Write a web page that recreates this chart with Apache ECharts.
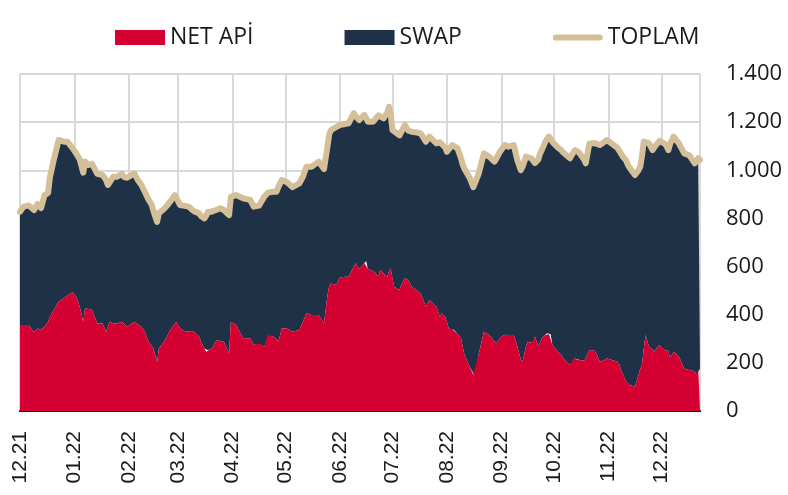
<!DOCTYPE html>
<html><head><meta charset="utf-8">
<script src="https://cdn.jsdelivr.net/npm/echarts@6/dist/echarts.min.js"></script>
<style>html,body{margin:0;padding:0;background:#fff}#c{width:788px;height:495px}</style>
</head><body><div id="c"></div>
<script>
const dates = [
 '2021-12-01','2021-12-03','2021-12-06','2021-12-09','2021-12-11','2021-12-13','2021-12-15','2021-12-17','2021-12-18','2021-12-20','2021-12-23','2021-12-26','2021-12-28','2021-12-31',
 '2022-01-02','2022-01-04','2022-01-06','2022-01-07','2022-01-09','2022-01-11','2022-01-14','2022-01-17','2022-01-19','2022-01-20','2022-01-21','2022-01-23','2022-01-25','2022-01-28','2022-01-29','2022-01-31',
 '2022-02-04','2022-02-06','2022-02-08','2022-02-10','2022-02-12','2022-02-14','2022-02-15','2022-02-17','2022-02-18','2022-02-21','2022-02-23','2022-02-25','2022-02-27','2022-02-28',
 '2022-03-02','2022-03-04','2022-03-07','2022-03-10','2022-03-13','2022-03-14','2022-03-16','2022-03-17','2022-03-18','2022-03-20','2022-03-23','2022-03-25','2022-03-27','2022-03-30','2022-03-31',
 '2022-04-03','2022-04-07','2022-04-11','2022-04-13','2022-04-16','2022-04-17','2022-04-19','2022-04-21','2022-04-22','2022-04-24','2022-04-26','2022-04-27','2022-04-29',
 '2022-05-02','2022-05-05','2022-05-09','2022-05-11','2022-05-13','2022-05-16','2022-05-20','2022-05-23','2022-05-25','2022-05-26','2022-05-27','2022-05-30',
 '2022-06-01','2022-06-04','2022-06-06','2022-06-09','2022-06-10','2022-06-12','2022-06-15','2022-06-16','2022-06-17','2022-06-20','2022-06-23','2022-06-24','2022-06-26','2022-06-28','2022-06-29','2022-06-30',
 '2022-07-01','2022-07-02','2022-07-05','2022-07-06','2022-07-08','2022-07-10','2022-07-12','2022-07-15','2022-07-17','2022-07-20','2022-07-22','2022-07-26','2022-07-28','2022-07-29','2022-07-31',
 '2022-08-01','2022-08-02','2022-08-04','2022-08-05','2022-08-07','2022-08-09','2022-08-10','2022-08-11','2022-08-14','2022-08-16','2022-08-17','2022-08-19','2022-08-22','2022-08-25','2022-08-28','2022-08-29','2022-08-31',
 '2022-09-01','2022-09-03','2022-09-05','2022-09-08','2022-09-10','2022-09-12','2022-09-13','2022-09-15','2022-09-16','2022-09-18','2022-09-19','2022-09-20','2022-09-21','2022-09-22','2022-09-23','2022-09-24','2022-09-26','2022-09-27','2022-09-28','2022-09-29','2022-09-30',
 '2022-10-03','2022-10-05','2022-10-06','2022-10-10','2022-10-12','2022-10-13','2022-10-15','2022-10-16','2022-10-18','2022-10-19','2022-10-21','2022-10-24','2022-10-25','2022-10-27','2022-10-29','2022-10-31',
 '2022-11-03','2022-11-04','2022-11-06','2022-11-07','2022-11-08','2022-11-09','2022-11-11','2022-11-12','2022-11-13','2022-11-16','2022-11-18','2022-11-19','2022-11-20','2022-11-21','2022-11-22','2022-11-24','2022-11-26','2022-11-27','2022-11-28','2022-11-30',
 '2022-12-01','2022-12-03','2022-12-04','2022-12-05','2022-12-06','2022-12-08','2022-12-11','2022-12-14','2022-12-17','2022-12-20','2022-12-21','2022-12-22','2022-12-23'
];
const netApi = [
 357,357,357,327,343,337,352,370,392,417,454,468,480,493,
 475,433,371,427,424,420,364,364,329,350,371,364,364,371,362,350,
 371,360,350,330,290,270,260,205,260,288,315,343,360,371,
 345,333,329,329,310,288,260,246,252,260,295,291,288,240,371,
 357,302,302,275,281,275,267,316,313,309,300,288,343,
 343,329,337,371,406,399,399,364,482,520,530,523,
 555,558,558,600,614,590,615,623,590,581,560,586,570,558,580,593,
 550,516,503,523,551,544,515,500,489,433,461,433,392,406,392,
 370,343,340,337,320,302,265,233,184,150,142,235,329,316,290,281,300,
 309,317,316,316,270,215,205,270,288,283,281,309,290,267,285,302,315,323,320,319,274,
 246,235,219,191,219,218,212,211,209,220,253,250,240,205,210,219,
 212,210,205,195,170,155,122,115,108,101,150,175,191,260,316,267,255,246,258,274,
 265,253,251,249,222,246,226,177,170,165,150,177,177
];
const toplam = [
 828,849,854,835,860,843,897,906,970,1036,1126,1119,1119,1091,
 1070,1045,990,1036,1022,1027,985,980,960,939,950,973,973,985,973,969,
 987,960,940,911,880,856,830,786,821,840,856,875,897,885,
 856,853,849,830,821,810,800,812,828,828,836,842,835,814,890,
 897,884,877,849,853,856,890,907,911,911,911,930,960,
 950,930,946,973,1015,1015,1036,1005,1100,1150,1167,1180,
 1188,1192,1195,1237,1225,1209,1230,1222,1202,1202,1228,1228,1216,1240,1264,1230,
 1167,1163,1145,1140,1188,1165,1160,1157,1153,1119,1140,1112,1116,1119,1095,
 1077,1085,1105,1100,1091,1050,1022,1005,967,930,925,985,1070,1057,1036,1047,1075,
 1085,1105,1098,1105,1043,1001,1015,1057,1055,1050,1045,1030,1022,1045,1070,1085,1119,1125,1140,1145,1118,
 1095,1084,1075,1050,1075,1084,1075,1070,1045,1029,1110,1113,1112,1105,1115,1126,
 1110,1105,1093,1088,1070,1057,1040,1022,1010,980,1000,1015,1060,1119,1116,1112,1084,1095,1105,1122,
 1126,1110,1100,1084,1110,1140,1112,1070,1062,1029,1040,1050,1043
];
const seriesNames = ['NET APİ', 'SWAP', 'TOPLAM'];
const yMin = 0, yMax = 1400, yStep = 200;
const xStart = '2021-12-01', xEnd = '2022-12-23';

const swap = toplam.map((t, i) => t - netApi[i]);
const pair = arr => dates.map((d, i) => [d, arr[i]]);
const fmtY = v => v >= 1000 ? Math.floor(v / 1000) + '.' + String(v % 1000).padStart(3, '0') : String(v);
const pad = n => (n < 10 ? '0' : '') + n;
const lineIcon = 'path://M0,0L0,0M50,15L50,15M3,4.5L47,4.5A3,3,0,0,1,47,10.5L3,10.5A3,3,0,0,1,3,4.5Z';

const chart = echarts.init(document.getElementById('c'), null, {renderer: 'canvas'});
chart.setOption({
  animation: false,
  backgroundColor: '#ffffff',
  legend: {
    top: 21, left: 110,
    itemWidth: 50, itemHeight: 15, itemGap: 91,
    textStyle: {fontFamily: 'Open Sans', fontSize: 23, color: '#1a1a1a'},
    data: [
      {name: seriesNames[0], icon: 'rect'},
      {name: seriesNames[1], icon: 'rect'},
      {name: seriesNames[2], icon: lineIcon, itemStyle: {color: '#d5bf99', borderWidth: 0}}
    ]
  },
  grid: {left: 20, right: 88, top: 74, bottom: 84, containLabel: false},
  xAxis: {
    type: 'time', min: xStart, max: xEnd,
    minInterval: 28 * 864e5, maxInterval: 31 * 864e5,
    axisLine: {show: true, lineStyle: {color: '#000', width: 2}},
    axisTick: {show: false},
    splitLine: {show: true, lineStyle: {color: '#d9d9d9', width: 2}},
    axisLabel: {
      rotate: 90, margin: 20, showMaxLabel: false, showMinLabel: true,
      fontFamily: 'Liberation Sans', fontSize: 21, color: '#1a1a1a',
      formatter: v => { const d = new Date(v); return pad(d.getMonth() + 1) + '.' + String(d.getFullYear()).slice(2); }
    }
  },
  yAxis: {
    type: 'value', position: 'right', min: yMin, max: yMax, interval: yStep,
    axisLine: {show: false}, axisTick: {show: false},
    splitLine: {show: true, lineStyle: {color: '#d9d9d9', width: 2}},
    axisLabel: {margin: 26, fontFamily: 'Open Sans', fontSize: 22, color: '#1a1a1a', formatter: fmtY}
  },
  series: [
    {name: seriesNames[0], type: 'line', stack: 'tot', data: pair(netApi), showSymbol: false, symbol: 'none',
     color: '#d50032', lineStyle: {width: 0}, areaStyle: {color: '#d50032', opacity: 1}, z: 2},
    {name: seriesNames[1], type: 'line', stack: 'tot', data: pair(swap), showSymbol: false, symbol: 'none',
     color: '#1e3147', lineStyle: {width: 0}, areaStyle: {color: '#1e3147', opacity: 1}, z: 1},
    {name: seriesNames[2], type: 'line', data: pair(toplam), showSymbol: false, symbol: 'none',
     color: '#d5bf99', lineStyle: {width: 6, cap: 'round', join: 'round', color: '#d5bf99'}, z: 3}
  ]
});
</script></body></html>
